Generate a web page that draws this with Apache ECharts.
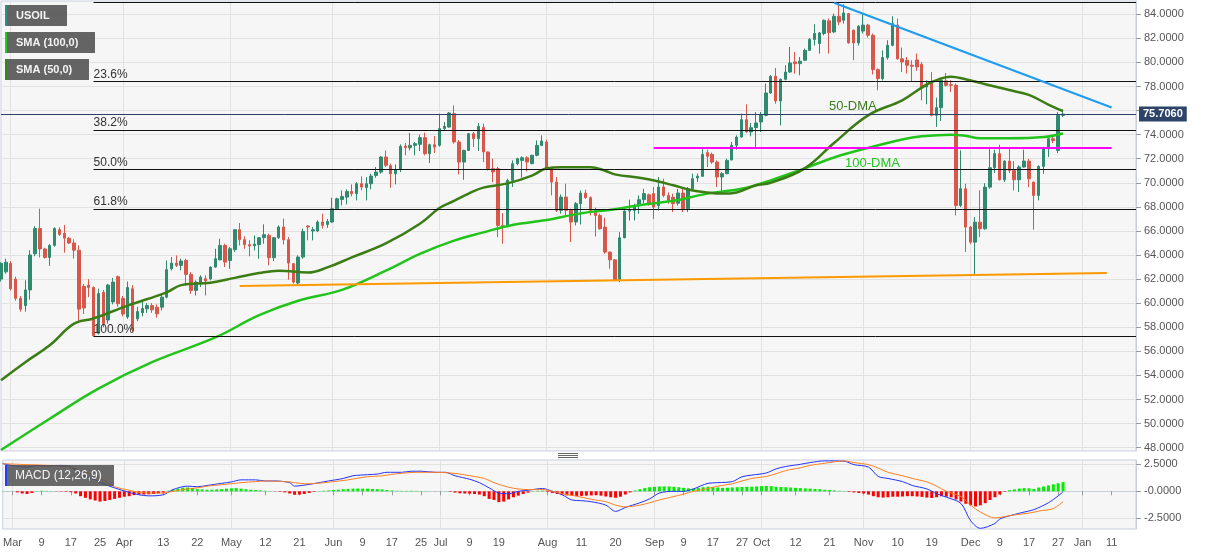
<!DOCTYPE html>
<html><head><meta charset="utf-8">
<script src="https://cdn.jsdelivr.net/npm/echarts@6/dist/echarts.min.js"></script>
<style>html,body{margin:0;padding:0;background:#fff}#chart{width:1207px;height:555px}</style>
</head><body><div id="chart"></div>
<script>
// ---------- DATA ----------
const startDate = '2021-02-25';
const categoryCount = 234;
// [open, close, low, high]
const candles = [
[62.0,63.3,61.8,63.4],[62.6,63.4,62.45,63.7],[63.3,61.2,61.05,63.5],[62.0,60.4,60.2,62.2],[60.4,59.5,59.3,60.6],
[59.8,61.1,59.3,61.9],[61.1,64.0,60.3,64.4],[64.1,66.2,63.9,66.4],[66.2,64.5,63.8,67.85],[64.5,63.8,63.7,64.6],
[63.8,64.8,63.1,64.9],[64.8,66.2,64.7,66.3],[66.1,65.7,65.6,66.3],[65.8,65.4,64.2,66.5],[65.4,65.0,64.9,65.5],
[65.0,64.4,63.7,65.3],[64.4,59.5,58.4,64.8],[61.4,59.6,59.1,61.6],[61.5,61.3,60.5,62.0],[61.3,57.3,57.25,61.4],
[57.5,60.8,57.4,61.2],[60.9,58.3,58.0,61.1],[58.6,61.5,58.3,61.6],[60.1,61.75,59.9,62.1],[62.2,59.95,59.7,62.3],
[60.4,59.1,58.9,60.6],[58.85,61.3,58.7,61.8],[61.2,57.8,57.6,61.5],[58.7,59.3,58.5,59.7],[59.2,59.55,58.9,60.1],
[59.53,59.8,59.2,60.0],[59.8,59.45,59.2,60.0],[59.67,59.12,58.8,59.9],[59.67,60.5,59.4,60.8],[60.5,62.78,60.4,63.55],
[62.86,63.33,62.72,63.83],[63.33,63.14,63.0,63.97],[63.14,63.5,62.72,63.69],[63.55,62.39,61.47,63.69],[62.39,61.06,60.78,62.58],
[61.06,61.75,60.64,61.89],[61.6,62.17,61.34,62.31],[62.03,61.84,60.64,62.31],[62.03,63.0,61.89,63.05],[63.0,63.69,62.94,64.52],
[63.6,64.8,63.55,65.35],[64.8,63.41,63.0,64.94],[63.55,64.52,62.86,64.66],[64.44,66.1,64.25,66.15],[66.1,65.27,64.8,66.66],
[65.27,64.86,64.52,65.55],[64.86,64.75,63.89,65.22],[64.77,64.91,64.38,65.63],[64.86,65.44,63.69,65.49],[65.44,65.69,64.94,66.55],
[65.63,63.78,63.14,65.77],[63.78,65.44,63.5,65.49],[65.44,66.33,65.35,66.46],[66.33,65.27,64.88,67.02],[65.27,63.33,61.95,65.49],
[63.28,61.75,61.61,63.33],[61.67,63.83,61.56,63.97],[63.83,65.96,63.69,66.19],[66.41,66.33,65.22,66.46],[66.0,66.1,65.22,66.33],
[66.0,66.74,65.9,66.88],[66.74,66.46,66.19,67.43],[66.54,66.79,66.26,67.0],[66.74,67.84,66.65,68.76],[67.84,68.67,67.8,68.76],
[68.62,68.87,68.12,69.37],[68.81,69.28,68.21,69.45],[69.28,69.09,68.87,69.87],[69.09,69.92,68.54,70.06],[69.92,69.64,69.37,70.53],
[69.6,69.92,68.54,70.48],[69.92,70.56,69.45,70.75],[70.61,70.89,70.42,71.31],[70.89,72.14,70.75,72.22],[72.14,71.45,71.31,72.69],
[71.42,70.75,69.59,71.6],[70.75,71.1,69.87,71.53],[71.1,73.03,70.89,73.19],[73.05,72.91,72.28,73.3],[72.91,73.11,72.69,74.14],
[73.11,73.25,72.28,73.39],[73.19,73.75,72.64,74.0],[73.75,72.42,72.28,74.16],[72.42,73.16,71.64,73.25],[73.16,72.97,72.47,73.88],
[73.11,74.5,73.0,75.74],[74.5,74.69,74.36,75.05],[74.63,75.8,74.58,75.88],[75.74,73.39,73.25,76.43],[73.39,71.72,70.7,73.55],
[71.72,72.69,70.25,72.75],[72.69,74.08,72.64,74.14],[74.08,73.66,72.97,74.22],[73.66,74.69,72.64,74.97],[74.6,72.56,71.72,74.91],
[72.56,71.17,71.03,72.6],[71.17,70.9,70.06,72.0],[71.17,66.46,65.49,71.31],[66.46,66.32,64.94,67.48],[66.38,70.2,66.32,70.34],
[70.2,71.59,69.65,71.86],[71.59,72.0,71.45,72.08],[71.86,72.08,70.42,72.2],[72.08,71.72,70.95,72.2],[71.59,72.28,71.55,72.33],
[72.28,73.11,72.2,73.52],[73.1,73.47,73.05,73.94],[73.39,71.17,71.03,73.58],[71.17,70.06,68.95,71.31],[70.06,67.71,67.57,70.48],
[67.71,68.81,67.43,69.03],[68.81,67.71,67.29,69.92],[67.71,66.74,65.07,67.85],[66.74,68.26,66.46,68.4],[68.26,69.14,66.54,69.37],
[69.14,68.76,68.67,69.42],[68.76,67.71,67.29,68.87],[67.71,67.29,65.54,67.93],[67.29,66.18,66.1,67.43],[66.32,64.24,64.1,67.1],
[64.24,63.6,62.86,64.3],[63.6,61.89,61.83,63.65],[61.89,65.43,61.75,65.9],[65.43,67.65,65.4,67.71],[67.65,67.71,66.87,68.6],
[67.71,68.12,66.87,68.26],[68.12,68.6,67.43,68.95],[68.6,69.1,68.3,69.5],[69.0,68.26,68.1,69.1],[69.1,67.98,67.0,69.65],
[68.1,69.65,67.7,70.48],[69.65,68.95,68.8,70.34],[68.95,68.54,68.26,69.2],[68.8,68.26,67.57,69.09],[68.3,69.15,68.1,69.5],
[69.15,67.85,67.57,69.5],[67.85,69.5,67.57,69.65],[69.5,70.34,69.37,70.76],[70.4,70.54,70.06,70.76],[70.54,72.36,70.48,72.83],
[72.5,72.2,71.3,72.75],[72.36,71.72,71.58,72.5],[71.72,70.48,69.65,71.86],[70.48,70.76,69.23,70.9],[70.76,71.86,70.7,72.0],
[71.9,73.11,71.86,73.39],[73.11,73.8,72.75,73.94],[73.8,75.24,73.75,75.74],[75.24,74.22,74.14,76.52],[74.22,74.58,73.86,74.97],
[74.58,74.97,72.97,75.88],[75.05,75.6,74.22,75.88],[75.6,77.46,75.52,78.24],[77.46,78.85,77.4,78.93],[78.85,76.8,76.57,79.54],
[76.8,78.6,74.77,78.65],[78.6,79.2,78.51,79.76],[79.2,79.95,79.15,81.28],[80.04,79.9,79.07,80.87],[79.9,80.1,78.93,80.45],
[80.18,81.0,80.12,81.15],[81.0,81.9,80.95,82.03],[81.9,82.4,81.4,83.17],[81.56,82.45,80.73,82.53],[82.4,83.5,82.25,83.56],
[83.45,82.48,80.73,83.64],[82.53,83.83,82.45,84.06],[83.83,83.36,83.08,84.97],[83.5,84.11,83.22,84.83],[84.06,81.62,81.56,84.11],
[82.67,81.62,80.18,82.73],[81.62,83.0,81.4,83.1],[82.6,83.1,82.4,84.0],[83.1,82.25,82.06,83.2],[82.25,79.4,79.0,82.4],
[79.4,78.65,77.68,79.5],[78.65,80.4,78.5,81.0],[80.4,81.42,80.23,81.84],[81.42,83.22,81.34,83.83],[83.1,80.3,80.23,83.64],
[80.3,80.04,79.2,81.23],[80.18,79.76,79.07,80.45],[79.76,79.68,78.37,80.18],[80.2,79.62,79.3,80.73],[79.84,77.96,76.85,80.04],
[77.96,78.1,76.52,78.51],[78.37,75.6,75.52,79.2],[75.6,76.24,74.64,77.07],[76.24,78.51,75.13,78.65],[78.46,78.1,78.0,79.12],
[78.15,78.1,77.55,78.51],[78.1,68.12,67.29,78.24],[68.12,69.51,67.98,72.7],[69.5,66.32,64.24,69.92],[66.32,65.07,64.9,66.4],
[65.07,66.73,62.39,67.15],[66.73,66.18,65.49,69.37],[66.18,69.64,66.1,69.97],[69.64,71.25,69.5,72.83],[71.25,72.42,70.81,72.75],
[72.42,70.25,70.2,73.16],[70.25,71.8,70.06,71.86],[71.8,71.03,70.81,72.83],[71.03,70.25,69.37,71.8],[70.25,71.31,69.23,71.45],
[71.31,71.8,71.25,72.75],[71.8,70.34,69.64,71.99],[70.06,68.95,66.1,70.1],[68.95,71.36,68.54,71.45],[71.36,72.83,70.75,72.97],
[72.83,73.66,72.14,73.8],[73.66,73.5,73.3,73.8],[72.69,75.6,72.47,75.88],[75.6,75.706,75.46,76.1]
];
const sma50Idx = [0,5,10,15,19,26,34,37,43,48,53,57,63,67,72,79,86,90,93,96,99,104,109,112,115,121,124,126,132,138,141,145,148,151,155,158,165,171,178,185,189,191,195,198,201,204,207,211,215,218];
const sma50Val = [53.6,55.1,56.5,58.3,58.73,59.8,60.9,61.5,61.7,62.1,62.5,62.7,62.55,62.97,63.8,64.96,66.6,67.9,68.5,69.1,69.6,69.95,70.6,71.2,71.3,71.3,71.0,70.7,70.35,69.8,69.45,69.2,69.1,69.2,69.8,70.0,71.2,73.3,75.6,76.85,77.9,78.35,78.8,78.6,78.3,78.0,77.7,77.3,76.5,75.95];
const sma100Idx = [0,10,20,31,44,53,61,70,79,86,93,99,105,112,119,126,132,138,145,152,158,165,171,178,185,189,195,198,201,207,214,218];
const sma100Val = [47.8,50.4,52.9,55.1,57.15,59.0,60.2,61.1,62.7,64.1,65.2,65.88,66.5,66.9,67.46,67.8,68.2,68.5,69.1,69.5,70.2,71.2,72.1,72.9,73.6,73.86,74.0,73.9,73.7,73.7,73.8,74.1];
const macdIdx = [0,2,5,7,9,12,14,16,19,21,23,26,28,30,33,35,38,40,42,45,47,49,52,54,56,59,60,63,65,67,70,72,75,77,79,82,84,86,89,91,93,96,98,100,102,104,106,108,111,112,115,117,119,121,124,126,128,131,133,135,138,140,142,145,147,150,152,154,157,159,161,164,166,169,173,175,178,180,182,185,187,190,192,194,197,199,201,204,205,208,210,212,215,217,218];
const macdVal = [2.56,2.4,2.24,2.4,2.34,2.4,2.24,1.6,1.06,0.64,0.32,-0.1,-0.32,-0.42,-0.32,0.16,0.48,0.42,0.54,0.74,0.87,1.06,1.06,0.96,0.96,0.8,0.48,0.64,0.8,0.96,1.19,1.44,1.54,1.6,1.76,1.76,1.86,1.86,1.76,1.76,1.44,1.12,0.8,0.32,-0.16,-0.22,0,0.1,0.26,0.16,-0.32,-0.8,-0.87,-0.96,-1.28,-1.86,-1.5,-1.06,-0.7,-0.16,0,0,0.22,0.74,0.8,0.9,1.35,1.5,1.7,2.08,2.3,2.5,2.66,2.82,2.79,2.47,2.24,1.38,1.19,0.9,0.54,0.22,-0.22,-0.54,-1.12,-2.72,-3.43,-2.98,-2.56,-2.15,-1.92,-1.7,-1.06,-0.42,-0.05];
const signalIdx = [0,5,9,14,16,19,21,23,26,28,30,33,35,38,40,42,45,47,49,52,54,56,59,61,63,66,68,71,73,75,78,80,82,85,87,89,92,94,96,99,101,104,106,108,111,113,115,118,121,124,126,128,131,133,135,138,140,142,145,147,150,152,154,157,159,161,164,166,169,173,175,178,180,182,185,187,190,192,194,197,199,201,204,206,208,211,213,216,218];
const signalVal = [2.56,2.47,2.4,2.24,1.92,1.44,0.96,0.42,0.1,-0.1,-0.16,-0.16,0,0.22,0.32,0.48,0.61,0.7,0.8,0.9,0.96,0.93,0.87,0.74,0.7,0.8,0.9,1.06,1.22,1.35,1.44,1.57,1.67,1.76,1.76,1.76,1.7,1.6,1.44,1.19,0.8,0.38,0.22,0.16,0.16,0,-0.22,-0.45,-0.74,-0.96,-1.28,-1.44,-1.28,-1.06,-0.8,-0.48,-0.26,0,0.26,0.48,0.7,0.96,1.19,1.38,1.63,1.92,2.18,2.4,2.6,2.82,2.66,2.47,2.15,1.76,1.44,1.19,0.87,0.48,0,-0.48,-1.28,-1.92,-2.47,-2.34,-2.18,-2.02,-1.83,-1.6,-0.96];
const histVal = [
0.02,0.02,0.01,-0.1,-0.2,-0.25,-0.15,0.03,0.05,0.04,
0.02,-0.02,-0.03,-0.05,-0.08,-0.2,-0.45,-0.6,-0.75,-0.85,
-0.95,-0.9,-0.8,-0.7,-0.6,-0.5,-0.45,-0.35,-0.3,-0.3,
-0.28,-0.25,-0.2,-0.12,0.05,0.15,0.25,0.33,0.35,0.3,
0.2,0.18,0.15,0.15,0.18,0.2,0.25,0.28,0.3,0.25,
0.2,0.15,0.12,0.08,0.05,0.03,-0.02,-0.05,-0.1,-0.2,
-0.32,-0.3,-0.25,-0.15,-0.05,0.02,0.05,0.08,0.12,0.15,
0.2,0.22,0.25,0.26,0.25,0.24,0.22,0.2,0.18,0.12,
0.08,0.05,0.04,0.04,0.05,0.04,0.03,0.02,0.01,-0.01,
0.02,0.01,-0.05,-0.12,-0.18,-0.2,-0.22,-0.25,-0.3,-0.45,
-0.7,-0.8,-1.0,-0.95,-0.75,-0.55,-0.4,-0.25,-0.12,0.02,
0.05,0.06,-0.05,-0.15,-0.25,-0.32,-0.38,-0.42,-0.45,-0.42,
-0.4,-0.38,-0.36,-0.4,-0.48,-0.55,-0.6,-0.5,-0.3,-0.1,
0.08,0.2,0.3,0.38,0.42,0.45,0.46,0.45,0.42,0.38,
0.32,0.28,0.25,0.3,0.38,0.42,0.4,0.35,0.32,0.33,
0.36,0.38,0.4,0.42,0.43,0.45,0.48,0.5,0.48,0.42,
0.4,0.38,0.35,0.32,0.3,0.27,0.25,0.22,0.2,0.15,
0.12,0.08,0.05,0.03,-0.05,-0.1,-0.15,-0.2,-0.3,-0.45,
-0.55,-0.58,-0.55,-0.5,-0.5,-0.48,-0.45,-0.45,-0.48,-0.52,
-0.58,-0.62,-0.55,-0.45,-0.5,-0.55,-0.75,-0.95,-1.15,-1.3,
-1.4,-1.3,-1.1,-0.8,-0.55,-0.3,-0.05,0.1,0.18,0.25,
0.3,0.28,0.22,0.35,0.45,0.55,0.65,0.75,0.85
];
const priceGridValues = [48,50,52,54,56,58,60,62,64,66,68,70,72,74,76,78,80,82,84];
const priceLabelValues = [48,50,52,54,56,58,60,62,64,66,68,70,72,74,78,80,82,84];
const macdTickValues = [-2.5,0,2.5];
const xTickDates = ['2021-03-01','2021-03-09','2021-03-17','2021-03-25','2021-04-01','2021-04-13','2021-04-22','2021-05-03','2021-05-12','2021-05-21','2021-06-01','2021-06-09','2021-06-17','2021-06-25','2021-07-01','2021-07-09','2021-07-19','2021-08-02','2021-08-11','2021-08-20','2021-09-01','2021-09-09','2021-09-17','2021-09-27','2021-10-01','2021-10-12','2021-10-21','2021-11-01','2021-11-10','2021-11-19','2021-12-01','2021-12-09','2021-12-17','2021-12-27','2022-01-03','2022-01-11'];
const xTickTexts = ['Mar','9','17','25','Apr','13','22','May','12','21','Jun','9','17','25','Jul','9','19','Aug','11','20','Sep','9','17','27','Oct','12','21','Nov','10','19','Dec','9','17','27','Jan','11'];
const monthStartDates = ['2021-03-01','2021-04-01','2021-05-03','2021-06-01','2021-07-01','2021-08-02','2021-09-01','2021-10-01','2021-11-01','2021-12-01','2022-01-03'];
const fibHigh = 84.97, fibLow = 57.25;
const fibPercents = [0, 23.6, 38.2, 50.0, 61.8, 100.0];
const fibStartIndex = 19;
const lastPrice = 75.706;
const resistanceLine = [[171, 84.95], [228, 76.25]];
const horizontalLevel = [[134, 72.9], [228, 72.9]];
const supportLine = [[49, 61.42], [227, 62.5]];

// ---------- BUILD ----------
function weekdays(start, n) {
  const out = []; const d = new Date(start + 'T00:00:00Z');
  while (out.length < n) { const w = d.getUTCDay(); if (w !== 0 && w !== 6) out.push(d.toISOString().slice(0, 10)); d.setUTCDate(d.getUTCDate() + 1); }
  return out;
}
const dates = weekdays(startDate, categoryCount);
const labelMap = {}; xTickDates.forEach((d, i) => labelMap[d] = xTickTexts[i]);
const monthSet = new Set(monthStartDates);
const pairs = (idx, val) => idx.map((k, i) => [dates[k], val[i]]);
const FONT = '"Liberation Sans", Arial, sans-serif';
const GRID_BORDER = '#c9cfe1';
const SPLIT = '#e2e2e2';

const fibLines = fibPercents.map(p => {
  const v = fibHigh - (fibHigh - fibLow) * p / 100;
  return [{ coord: [dates[fibStartIndex], v], lineStyle: { color: '#111', width: 1, type: 'solid' },
            label: { show: p !== 0, position: 'insideStartTop', distance: [0, 1], formatter: p.toFixed(1) + '%', color: '#333', fontSize: 12, fontFamily: FONT } },
          { coord: [dates[categoryCount - 1], v] }];
});
const seg = (s, color) => [{ coord: [dates[s[0][0]], s[0][1]], lineStyle: { color: color, width: 2, type: 'solid' }, label: { show: false } },
                           { coord: [dates[s[1][0]], s[1][1]] }];

const chart = echarts.init(document.getElementById('chart'), null, { renderer: 'canvas' });
chart.setOption({
  animation: false,
  backgroundColor: '#ffffff',
  textStyle: { fontFamily: FONT },
  grid: [
    { left: 1, right: 71, top: 1, height: 450, show: true, backgroundColor: '#f6f6f6', borderColor: GRID_BORDER, borderWidth: 1 },
    { left: 1, right: 71, top: 460, height: 69, show: true, backgroundColor: '#f6f6f6', borderColor: GRID_BORDER, borderWidth: 1 }
  ],
  xAxis: [
    { type: 'category', gridIndex: 0, data: dates, boundaryGap: false,
      axisLine: { show: false }, axisTick: { show: false }, axisLabel: { show: false },
      splitLine: { show: true, interval: (i, v) => monthSet.has(v), lineStyle: { color: SPLIT, width: 1 } } },
    { type: 'category', gridIndex: 1, data: dates, boundaryGap: false,
      axisLine: { show: true, lineStyle: { color: GRID_BORDER } },
      axisTick: { show: true, interval: (i, v) => v in labelMap, length: 4, lineStyle: { color: '#999' } },
      axisLabel: { show: true, interval: (i, v) => v in labelMap, formatter: v => labelMap[v] || '', color: '#555', fontSize: 11, margin: 8, fontFamily: FONT },
      splitLine: { show: true, interval: (i, v) => monthSet.has(v), lineStyle: { color: SPLIT, width: 1 } } }
  ],
  yAxis: [
    { type: 'value', gridIndex: 0, position: 'right', min: 47.72, max: 85.1, scale: true,
      axisLine: { show: true, lineStyle: { color: GRID_BORDER } },
      axisTick: { show: true, length: 5, customValues: priceGridValues, lineStyle: { color: '#999' } },
      axisLabel: { show: true, customValues: priceLabelValues, formatter: v => v.toFixed(4), color: '#555', fontSize: 11, margin: 8, fontFamily: FONT },
      splitLine: { show: true, lineStyle: { color: SPLIT, width: 1 } } },
    { type: 'value', gridIndex: 1, position: 'right', min: -3.49, max: 2.9,
      axisLine: { show: true, lineStyle: { color: GRID_BORDER } },
      axisTick: { show: true, length: 5, customValues: macdTickValues, lineStyle: { color: '#999' } },
      axisLabel: { show: true, customValues: macdTickValues, formatter: v => (v === 0 ? '-0.0000' : v.toFixed(4)), color: '#555', fontSize: 11, margin: 8, fontFamily: FONT },
      splitLine: { show: true, lineStyle: { color: SPLIT, width: 1 } } }
  ],
  series: [
    { name: 'USOIL', type: 'candlestick', xAxisIndex: 0, yAxisIndex: 0, data: candles, barWidth: 3,
      itemStyle: { color: '#2f8a70', color0: '#d9574a', borderColor: '#2f8a70', borderColor0: '#d9574a', borderWidth: 1 },
      markLine: { silent: true, symbol: ['none', 'none'], animation: false,
        data: [
          ...fibLines,
          seg(supportLine, '#ff9900'),
          seg(horizontalLevel, '#ff00ff'),
          seg(resistanceLine, '#1e9cf0'),
          { yAxis: lastPrice, lineStyle: { color: '#2d4066', width: 1, type: 'solid' },
            label: { show: true, position: 'end', distance: 3, formatter: lastPrice.toFixed(4), color: '#fff', fontWeight: 'bold', fontSize: 11,
                     backgroundColor: '#2d4468', padding: [2, 4, 2, 4], fontFamily: FONT } }
        ] } },
    { name: 'SMA (100,0)', type: 'line', xAxisIndex: 0, yAxisIndex: 0, data: pairs(sma100Idx, sma100Val), showSymbol: false, smooth: 0.4,
      lineStyle: { color: '#22c41c', width: 2.5 }, z: 3 },
    { name: 'SMA (50,0)', type: 'line', xAxisIndex: 0, yAxisIndex: 0, data: pairs(sma50Idx, sma50Val), showSymbol: false, smooth: 0.4,
      lineStyle: { color: '#3b7d14', width: 2.5 }, z: 3 },
    { name: 'Histogram', type: 'bar', xAxisIndex: 1, yAxisIndex: 1, data: histVal, barWidth: 3,
      itemStyle: { color: p => (p.value >= 0 ? '#00ee00' : '#ff0000') } },
    { name: 'MACD', type: 'line', xAxisIndex: 1, yAxisIndex: 1, data: pairs(macdIdx, macdVal), showSymbol: false, smooth: 0.3,
      lineStyle: { color: '#2233ff', width: 1 } },
    { name: 'Signal', type: 'line', xAxisIndex: 1, yAxisIndex: 1, data: pairs(signalIdx, signalVal), showSymbol: false, smooth: 0.3,
      lineStyle: { color: '#ff7f1e', width: 1 } }
  ],
  graphic: [
    { type: 'rect', shape: { x: 5, y: 5, width: 62, height: 21 }, style: { fill: 'rgba(88,88,88,0.93)' }, z: 100 },
    { type: 'rect', shape: { x: 5, y: 5, width: 2, height: 21 }, style: { fill: '#2f8f86' }, z: 101 },
    { type: 'text', x: 16, y: 15.5, style: { text: 'USOIL', fill: '#f4f4f4', font: 'bold 11px ' + FONT, verticalAlign: 'middle' }, z: 101 },
    { type: 'rect', shape: { x: 5, y: 32, width: 90, height: 21 }, style: { fill: 'rgba(88,88,88,0.93)' }, z: 100 },
    { type: 'rect', shape: { x: 5, y: 32, width: 2, height: 21 }, style: { fill: '#1fd11f' }, z: 101 },
    { type: 'text', x: 16, y: 42.5, style: { text: 'SMA (100,0)', fill: '#f4f4f4', font: 'bold 11px ' + FONT, verticalAlign: 'middle' }, z: 101 },
    { type: 'rect', shape: { x: 5, y: 59, width: 84, height: 21 }, style: { fill: 'rgba(88,88,88,0.93)' }, z: 100 },
    { type: 'rect', shape: { x: 5, y: 59, width: 2, height: 21 }, style: { fill: '#2f8a1a' }, z: 101 },
    { type: 'text', x: 16, y: 69.5, style: { text: 'SMA (50,0)', fill: '#f4f4f4', font: 'bold 11px ' + FONT, verticalAlign: 'middle' }, z: 101 },
    { type: 'rect', shape: { x: 5, y: 465, width: 109, height: 21 }, style: { fill: 'rgba(80,80,80,0.85)' }, z: 100 },
    { type: 'rect', shape: { x: 5, y: 465, width: 2, height: 21 }, style: { fill: '#1f3cff' }, z: 101 },
    { type: 'text', x: 15, y: 475.5, style: { text: 'MACD (12,26,9)', fill: '#f4f4f4', font: '12px ' + FONT, verticalAlign: 'middle' }, z: 101 },
    { type: 'text', x: 829, y: 106, style: { text: '50-DMA', fill: '#3b7a1e', font: '13px ' + FONT, verticalAlign: 'middle' }, z: 50 },
    { type: 'text', x: 845, y: 163, style: { text: '100-DMA', fill: '#22c322', font: '13px ' + FONT, verticalAlign: 'middle' }, z: 50 },
    { type: 'line', shape: { x1: 558, y1: 453.5, x2: 578, y2: 453.5 }, style: { stroke: '#666', lineWidth: 1 } },
    { type: 'line', shape: { x1: 558, y1: 455.5, x2: 578, y2: 455.5 }, style: { stroke: '#666', lineWidth: 1 } },
    { type: 'line', shape: { x1: 558, y1: 457.5, x2: 578, y2: 457.5 }, style: { stroke: '#666', lineWidth: 1 } }
  ]
});
</script></body></html>
